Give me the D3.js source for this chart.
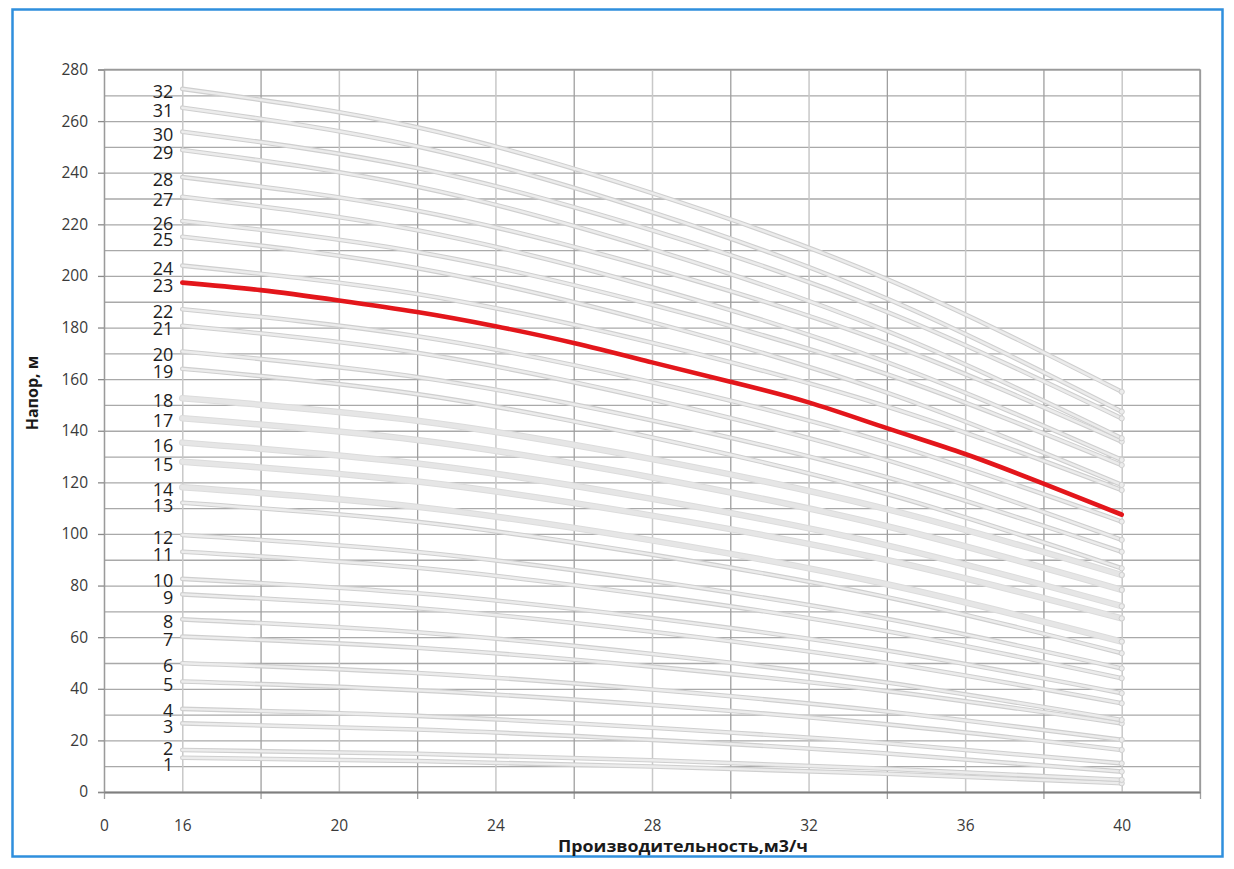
<!DOCTYPE html>
<html>
<head>
<meta charset="utf-8">
<script src="https://cdn.jsdelivr.net/npm/d3@7"></script>
<style>
  body { margin: 0; background: #fff; }
  svg { display: block; }
</style>
</head>
<body>
<div class="graph"></div>
<script>
// Flow points (m3/h) where the stage curves were read
const flowPoints = [16, 22, 28, 34, 40];

// Head (m) per stage curve at the flow points above, stage 1 .. 32
const stageLabels = ['1','2','3','4','5','6','7','8','9','10','11','12','13','14','15','16',
  '17','18','19','20','21','22','23','24','25','26','27','28','29','30','31','32'];
const stageHeads = [
  [13.3, 12.0, 9.9, 7.1, 3.4],
  [16.3, 14.8, 12.3, 9.0, 4.7],
  [26.6, 24.2, 20.2, 14.9, 7.9],
  [32.2, 29.5, 24.9, 18.9, 11.1],
  [42.8, 39.4, 33.7, 26.2, 16.3],
  [49.9, 46.1, 39.7, 31.2, 20.2],
  [60.2, 55.9, 48.6, 39.1, 26.6],
  [66.9, 61.9, 53.5, 42.4, 27.9],
  [76.6, 71.2, 62.1, 50.1, 34.4],
  [82.6, 77.0, 67.4, 54.8, 38.3],
  [93.1, 86.9, 76.2, 62.3, 44.1],
  [99.6, 93.0, 81.8, 67.1, 47.9],
  [112.1, 104.7, 92.0, 75.5, 53.8],
  [118.1, 110.5, 97.5, 80.5, 58.3],
  [128.0, 120.3, 107.1, 89.9, 67.3],
  [135.4, 127.3, 113.6, 95.6, 72.0],
  [144.8, 136.4, 121.9, 103.0, 78.3],
  [152.6, 143.9, 129.0, 109.6, 84.1],
  [164.0, 154.2, 137.4, 115.5, 86.7],
  [170.7, 160.8, 144.0, 122.0, 93.1],
  [180.7, 170.2, 152.1, 128.6, 97.7],
  [187.1, 176.6, 158.8, 135.4, 104.8],
  [197.4, 186.0, 166.5, 141.0, 107.5],
  [204.0, 193.0, 174.1, 149.4, 117.0],
  [215.2, 203.0, 182.1, 154.8, 119.0],
  [221.3, 209.3, 188.8, 161.9, 126.7],
  [230.7, 217.7, 195.6, 166.6, 128.7],
  [238.3, 225.3, 203.0, 173.9, 135.8],
  [248.8, 234.6, 210.4, 178.7, 137.1],
  [255.9, 241.8, 217.7, 186.1, 144.8],
  [265.2, 250.2, 224.7, 191.2, 147.4],
  [272.5, 257.6, 232.1, 198.8, 155.1]
];

// Highlighted curve (stage 23)
const redStage = '23';
const redFlow = [16, 18, 20, 22, 24, 26, 28, 30, 32, 34, 36, 38, 40];
const redHead = [197.4, 194.5, 190.5, 186.0, 180.5, 174.0, 166.5, 159.0, 151.0, 141.0, 131.0, 119.5, 107.5];

// Axis ticks
const xTickValues = [14, 16, 20, 24, 28, 32, 36, 40];
const xTickLabels = ['0', '16', '20', '24', '28', '32', '36', '40'];
const xMajorTicks = [14, 18, 22, 26, 30, 34, 38, 42];
const xMinorGrid = [16, 20, 24, 28, 32, 36, 40];
const yTickValues = [0, 20, 40, 60, 80, 100, 120, 140, 160, 180, 200, 220, 240, 260, 280];
const yGridValues = [0, 10, 20, 30, 40, 50, 60, 70, 80, 90, 100, 110, 120, 130, 140,
  150, 160, 170, 180, 190, 200, 210, 220, 230, 240, 250, 260, 270, 280];

const thickStages = ['14', '15', '16', '17', '18'];

// Chart dimensions
const W = 1234, H = 869;
const margin = { top: 69.5, right: 34, bottom: 77, left: 104 };
const width = W - margin.left - margin.right;
const height = H - margin.top - margin.bottom;

const root = d3.select('.graph')
  .append('svg')
  .attr('width', W)
  .attr('height', H);

// blue frame
root.append('rect')
  .attr('x', 12.5).attr('y', 9.5)
  .attr('width', 1210).attr('height', 847)
  .attr('fill', 'none')
  .attr('stroke', '#2f8fdd')
  .attr('stroke-width', 2.5);

const svg = root.append('g')
  .attr('transform', `translate(${margin.left},${margin.top})`);

const xScale = d3.scaleLinear().domain([14, 42]).range([0, width]);
const yScale = d3.scaleLinear().domain([0, 280]).range([height, 0]);

const font = "'Open Sans', 'Liberation Sans', sans-serif";

// Horizontal gridlines
svg.append('g')
  .call(d3.axisLeft(yScale).tickValues(yGridValues).tickSize(-width).tickFormat(''))
  .call(g => g.select('.domain').remove())
  .call(g => g.selectAll('line').attr('stroke', '#a9a9a9').attr('stroke-width', 1.3));

// Vertical gridlines (minor, lighter)
svg.append('g')
  .attr('transform', `translate(0,${height})`)
  .call(d3.axisBottom(xScale).tickValues(xMinorGrid).tickSize(-height).tickFormat(''))
  .call(g => g.select('.domain').remove())
  .call(g => g.selectAll('line').attr('stroke', '#c8c8c8').attr('stroke-width', 1.5));

// Vertical gridlines (major, darker) with ticks below the axis
svg.append('g')
  .attr('transform', `translate(0,${height})`)
  .call(d3.axisBottom(xScale).tickValues(xMajorTicks).tickSizeInner(-height).tickSizeOuter(0).tickFormat(''))
  .call(g => g.select('.domain').remove())
  .call(g => g.selectAll('line').attr('stroke', '#9f9f9f').attr('stroke-width', 1.3).attr('y2', -height).attr('y1', 7));

// Y axis with ticks and labels
svg.append('g')
  .call(d3.axisLeft(yScale).tickValues(yTickValues).tickSize(6).tickPadding(10))
  .call(g => g.select('.domain').attr('stroke', '#9a9a9a').attr('stroke-width', 1.3))
  .call(g => g.selectAll('line').attr('stroke', '#8a8a8a').attr('stroke-width', 1.3))
  .call(g => g.selectAll('text')
    .attr('font-family', font).attr('font-size', 15.5).attr('fill', '#3a3a3a'));

// X axis line + labels
svg.append('g')
  .attr('transform', `translate(0,${height})`)
  .call(d3.axisBottom(xScale).tickValues(xTickValues).tickSize(0).tickPadding(28)
    .tickFormat((d, i) => xTickLabels[i]))
  .call(g => g.select('.domain').attr('stroke', '#7f7f7f').attr('stroke-width', 2.2))
  .call(g => g.selectAll('text')
    .attr('font-family', font).attr('font-size', 15.5).attr('fill', '#3a3a3a'));

// Top and right border of the plot area
svg.append('line')
  .attr('x1', 0).attr('x2', width).attr('y1', 0).attr('y2', 0)
  .attr('stroke', '#9a9a9a').attr('stroke-width', 1.3);
svg.append('line')
  .attr('x1', width).attr('x2', width).attr('y1', 0).attr('y2', height)
  .attr('stroke', '#9a9a9a').attr('stroke-width', 1.5);

// Curves
const line = d3.line()
  .x(d => xScale(d[0]))
  .y(d => yScale(d[1]))
  .curve(d3.curveNatural);

const curves = stageLabels.map((label, i) => ({
  label,
  points: flowPoints.map((q, j) => [q, stageHeads[i][j]])
}));

const grayCurves = curves.filter(c => c.label !== redStage);

const curveGroup = svg.append('g');

grayCurves.forEach(c => {
  const thick = thickStages.includes(c.label);
  curveGroup.append('path')
    .attr('d', line(c.points))
    .attr('fill', 'none')
    .attr('stroke', thick ? '#dcdcdc' : '#cfcfcf')
    .attr('stroke-width', thick ? 6.5 : 4.6)
    .attr('stroke-linecap', 'round');
  curveGroup.append('path')
    .attr('d', line(c.points))
    .attr('fill', 'none')
    .attr('stroke', thick ? '#e6e6e6' : '#ececec')
    .attr('stroke-width', thick ? 4.5 : 2.4)
    .attr('stroke-linecap', 'round');
  const last = c.points[c.points.length - 1];
  curveGroup.append('circle')
    .attr('cx', xScale(last[0]))
    .attr('cy', yScale(last[1]))
    .attr('r', 2.6)
    .attr('fill', '#ececec')
    .attr('stroke', '#cfcfcf')
    .attr('stroke-width', 1);
});

// Red highlighted curve
svg.append('path')
  .attr('d', line(redFlow.map((q, i) => [q, redHead[i]])))
  .attr('fill', 'none')
  .attr('stroke', '#e3161b')
  .attr('stroke-width', 4.6)
  .attr('stroke-linecap', 'round');

// Stage labels at the start of each curve, nudged apart where they collide
const labelPos = curves.map(c => ({ label: c.label, y: yScale(c.points[0][1]) + 2.5 }));
labelPos.sort((a, b) => b.y - a.y);
const minGap = 16.5;
for (let iter = 0; iter < 50; iter++) {
  for (let i = 1; i < labelPos.length; i++) {
    const gap = labelPos[i - 1].y - labelPos[i].y;
    if (gap < minGap) {
      const shift = (minGap - gap) / 2;
      labelPos[i - 1].y += shift;
      labelPos[i].y -= shift;
    }
  }
}

svg.append('g')
  .selectAll('text')
  .data(labelPos)
  .enter()
  .append('text')
  .attr('x', xScale(16) - 9)
  .attr('y', d => d.y)
  .attr('dy', '0.36em')
  .attr('text-anchor', 'end')
  .attr('font-family', font)
  .attr('font-size', 18)
  .attr('fill', '#1e1e1e')
  .text(d => d.label);

// Axis titles
root.append('text')
  .attr('x', 683)
  .attr('y', 852)
  .attr('text-anchor', 'middle')
  .attr('font-family', font)
  .attr('font-weight', 'bold')
  .attr('font-size', 16)
  .attr('fill', '#1a1a1a')
  .attr('textLength', 250)
  .attr('lengthAdjust', 'spacingAndGlyphs')
  .text('Производительность,м3/ч');

root.append('text')
  .attr('transform', 'translate(38,393) rotate(-90)')
  .attr('text-anchor', 'middle')
  .attr('font-family', font)
  .attr('font-weight', 'bold')
  .attr('font-size', 16)
  .attr('fill', '#1a1a1a')
  .text('Напор, м');
</script>
</body>
</html>
